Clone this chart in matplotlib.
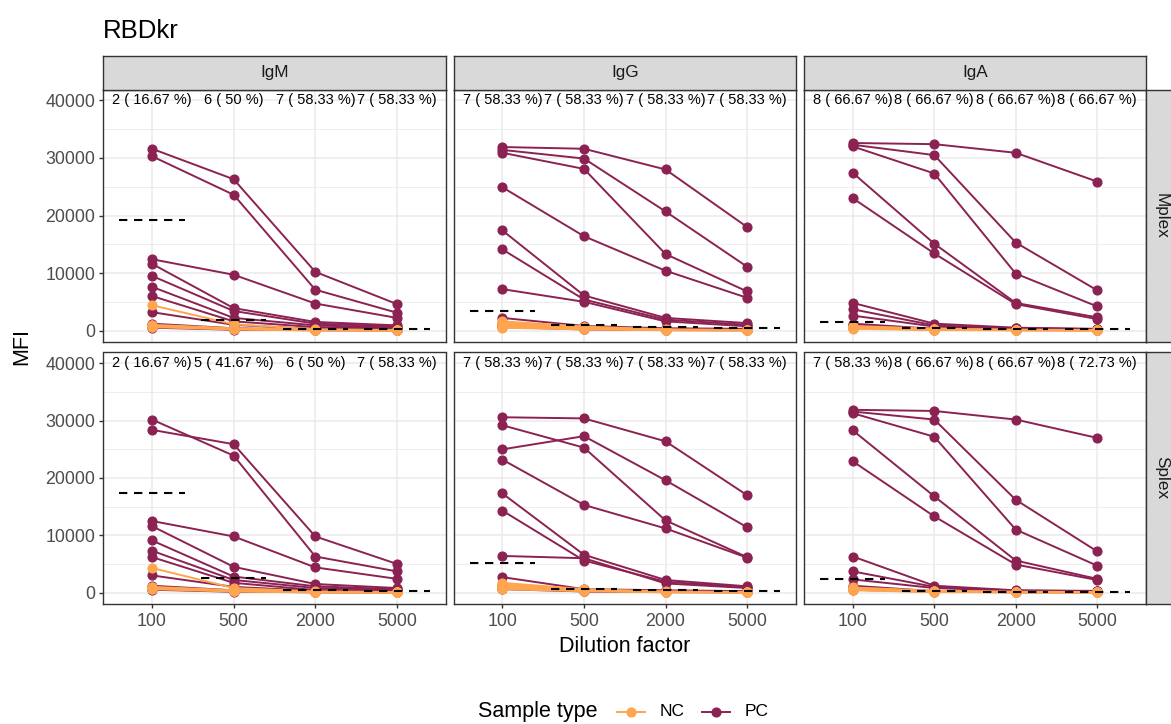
import numpy as np
import matplotlib.pyplot as plt
from matplotlib.lines import Line2D

plt.rcParams['font.family'] = ['Liberation Sans', 'DejaVu Sans']

dilutions = ["100", "500", "2000", "5000"]
isotypes = ["IgM", "IgG", "IgA"]
platforms = ["Mplex", "Splex"]

# PC samples (MFI at 100, 500, 2000, 5000)
pc_igm_mplex = [[31600, 26300, 10200, 4600], [30300, 23600, 7100, 3100],
                [12400, 9700, 4700, 2200], [11600, 3900, 1500, 900],
                [9500, 3400, 1200, 700], [7600, 2200, 900, 500],
                [6000, 1600, 600, 350], [3200, 1000, 250, 150],
                [1200, 400, 150, 100], [900, 300, 100, 80],
                [700, 200, 80, 60], [500, 150, 60, 50]]
pc_igg_mplex = [[31900, 31600, 28000, 18000], [31400, 29900, 20700, 11100],
                [30900, 28100, 13300, 6800], [24900, 16400, 10400, 5700],
                [17400, 6100, 2200, 1300], [14100, 5400, 1900, 1000],
                [7200, 5000, 1600, 750], [2200, 800, 400, 300],
                [1300, 500, 200, 150], [1000, 400, 150, 100],
                [800, 300, 100, 80], [600, 200, 80, 60]]
pc_iga_mplex = [[32600, 32400, 30900, 25900], [32300, 30500, 15300, 7000],
                [32000, 27300, 9900, 4200], [27400, 15100, 4800, 2300],
                [23000, 13400, 4600, 2000], [4800, 1200, 500, 300],
                [3700, 900, 400, 250], [2600, 700, 350, 230],
                [1200, 300, 200, 150], [900, 250, 150, 100],
                [700, 200, 100, 80], [500, 150, 80, 60]]
pc_igm_splex = [[30200, 23900, 6300, 3700], [28400, 25900, 9800, 5000],
                [12500, 9800, 4400, 2400], [11600, 4500, 1500, 800],
                [9100, 2800, 1100, 600], [7300, 2200, 800, 500],
                [6200, 1700, 450, 400], [3000, 1000, 300, 200],
                [1200, 400, 150, 100], [900, 300, 100, 80],
                [700, 200, 80, 60], [500, 150, 60, 50]]
pc_igg_splex = [[30600, 30400, 26400, 17000], [29200, 25300, 12600, 6200],
                [25000, 27300, 19600, 11400], [23200, 15300, 11200, 6100],
                [17300, 6600, 2200, 1100], [14300, 5600, 1900, 900],
                [6400, 6000, 1600, 800], [2700, 600, 400, 250],
                [1300, 400, 200, 150], [1000, 300, 150, 100],
                [800, 250, 100, 80], [600, 200, 80, 60]]
pc_iga_splex = [[31900, 31700, 30200, 27000], [31600, 30200, 16200, 7200],
                [31300, 27200, 11000, 4700], [28300, 16800, 5600, 2400],
                [22900, 13300, 4900, 2200], [6300, 1200, 400, 300],
                [3700, 1000, 350, 250], [2300, 800, 300, 200],
                [1200, 250, 130, np.nan], [900, 220, 100, 100],
                [700, 200, 80, 80], [500, 150, 60, 60]]

# NC samples
nc_igm_mplex = [[4400, 1100, 200, 100], [1000, 400, 100, 50], [900, 300, 100, 50],
                [800, 300, 80, 40], [700, 250, 60, 40], [600, 200, 50, 30]]
nc_igg_mplex = [[1600, 700, 200, 100], [1300, 600, 150, 100], [1100, 500, 120, 80],
                [900, 400, 100, 60], [700, 300, 80, 50], [500, 200, 60, 40]]
nc_iga_mplex = [[800, 300, 150, 100], [700, 250, 120, 80], [600, 200, 100, 60],
                [500, 180, 80, 50], [400, 150, 60, 40], [300, 100, 50, 30]]
nc_igm_splex = [[4300, 800, 200, 100], [1000, 400, 100, 50], [900, 350, 100, 50],
                [800, 300, 80, 40], [700, 250, 60, 40], [600, 200, 50, 30]]
nc_igg_splex = [[1700, 600, 200, 100], [1400, 500, 150, 80], [1200, 450, 120, 70],
                [1000, 400, 100, 60], [800, 300, 80, 50], [600, 250, 60, 40]]
nc_iga_splex = [[900, 300, 150, 100], [800, 250, 120, 80], [700, 200, 100, 60],
                [600, 180, 80, 50], [500, 150, 60, 40], [400, 100, 50, 30]]

# cutoffs per dilution
cut_igm_mplex = [19200, 1900, 300, 200]
cut_igg_mplex = [3400, 900, 580, 400]
cut_iga_mplex = [1450, 450, 300, 200]
cut_igm_splex = [17400, 2500, 520, 350]
cut_igg_splex = [5100, 700, 520, 300]
cut_iga_splex = [2400, 300, 150, 120]

lab_igm_mplex = ["2 ( 16.67 %)", "6 ( 50 %)", "7 ( 58.33 %)", "7 ( 58.33 %)"]
lab_igg_mplex = ["7 ( 58.33 %)"] * 4
lab_iga_mplex = ["8 ( 66.67 %)"] * 4
lab_igm_splex = ["2 ( 16.67 %)", "5 ( 41.67 %)", "6 ( 50 %)", "7 ( 58.33 %)"]
lab_igg_splex = ["7 ( 58.33 %)"] * 4
lab_iga_splex = ["7 ( 58.33 %)", "8 ( 66.67 %)", "8 ( 66.67 %)", "8 ( 72.73 %)"]

pc_data = {("Mplex", "IgM"): pc_igm_mplex, ("Mplex", "IgG"): pc_igg_mplex, ("Mplex", "IgA"): pc_iga_mplex,
           ("Splex", "IgM"): pc_igm_splex, ("Splex", "IgG"): pc_igg_splex, ("Splex", "IgA"): pc_iga_splex}
nc_data = {("Mplex", "IgM"): nc_igm_mplex, ("Mplex", "IgG"): nc_igg_mplex, ("Mplex", "IgA"): nc_iga_mplex,
           ("Splex", "IgM"): nc_igm_splex, ("Splex", "IgG"): nc_igg_splex, ("Splex", "IgA"): nc_iga_splex}
cut_data = {("Mplex", "IgM"): cut_igm_mplex, ("Mplex", "IgG"): cut_igg_mplex, ("Mplex", "IgA"): cut_iga_mplex,
            ("Splex", "IgM"): cut_igm_splex, ("Splex", "IgG"): cut_igg_splex, ("Splex", "IgA"): cut_iga_splex}
lab_data = {("Mplex", "IgM"): lab_igm_mplex, ("Mplex", "IgG"): lab_igg_mplex, ("Mplex", "IgA"): lab_iga_mplex,
            ("Splex", "IgM"): lab_igm_splex, ("Splex", "IgG"): lab_igg_splex, ("Splex", "IgA"): lab_iga_splex}

PC_COL = "#8B2252"
NC_COL = "#FFA54F"
W, H = 1171, 724


def box(x0, y0, x1, y1):
    return [x0 / W, 1 - y1 / H, (x1 - x0) / W, (y1 - y0) / H]


cols = [(103, 446), (453.5, 796), (804, 1146)]
rows = [(89.5, 341.5), (352.5, 603.5)]

fig = plt.figure(figsize=(W / 100, H / 100), dpi=100)
xpos = np.arange(len(dilutions))

for r, plat in enumerate(platforms):
    for c, iso in enumerate(isotypes):
        key = (plat, iso)
        ax = fig.add_axes(box(cols[c][0], rows[r][0], cols[c][1], rows[r][1]))
        for s in pc_data[key]:
            ax.plot(xpos, s, color=PC_COL, lw=1.4, marker='o', ms=6.3, zorder=3)
        for s in nc_data[key]:
            ax.plot(xpos, s, color=NC_COL, lw=1.4, marker='o', ms=6.3, zorder=4)
        for i, cv in enumerate(cut_data[key]):
            ax.plot([i - 0.4, i + 0.4], [cv, cv], color='black', lw=1.5,
                    dashes=(4, 3.2), dash_capstyle='butt', zorder=5)
        for i, lab in enumerate(lab_data[key]):
            ax.text(i, 40000, lab, ha='center', va='center', fontsize=10.5,
                    color='black', zorder=6)
        ax.set_xlim(-0.6, 3.6)
        ax.set_ylim(-1900, 41900)
        ax.set_xticks(xpos)
        ax.set_yticks(np.arange(0, 40001, 10000))
        ax.set_yticks(np.arange(5000, 40000, 10000), minor=True)
        ax.grid(which='major', color='#EBEBEB', lw=1.1)
        ax.grid(which='minor', axis='y', color='#EBEBEB', lw=0.6)
        ax.set_axisbelow(True)
        for sp in ax.spines.values():
            sp.set_color('#333333')
            sp.set_linewidth(1.0)
        ax.tick_params(which='minor', length=0)
        ax.tick_params(which='major', color='#333333', labelcolor='#4D4D4D',
                       labelsize=12.8, length=3, width=1.0)
        ax.tick_params(axis='x', pad=3.5)
        ax.tick_params(axis='y', pad=2.5)
        if r == 1:
            ax.set_xticklabels(dilutions)
        else:
            ax.set_xticklabels([])
            ax.tick_params(axis='x', length=0)
        if c == 0:
            ax.set_yticklabels([str(v) for v in range(0, 40001, 10000)])
        else:
            ax.set_yticklabels([])
            ax.tick_params(axis='y', length=0)

# column strips
for c, iso in enumerate(isotypes):
    sa = fig.add_axes(box(cols[c][0], 56, cols[c][1], 89.5))
    sa.set_facecolor('#D9D9D9')
    sa.set_xticks([])
    sa.set_yticks([])
    for sp in sa.spines.values():
        sp.set_color('#333333')
        sp.set_linewidth(1.0)
    sa.text(0.5, 0.5, iso, ha='center', va='center', fontsize=12.3,
            color='#1A1A1A', transform=sa.transAxes)

# row strips (cut by the right edge as in the original)
for r, plat in enumerate(platforms):
    sa = fig.add_axes(box(1146, rows[r][0], 1179.5, rows[r][1]))
    sa.set_facecolor('#D9D9D9')
    sa.set_xticks([])
    sa.set_yticks([])
    for sp in sa.spines.values():
        sp.set_color('#333333')
        sp.set_linewidth(1.0)
    fig.text(1161.5 / W, 1 - (rows[r][0] + rows[r][1]) / 2 / H, plat,
             ha='center', va='center', fontsize=12.3, color='#1A1A1A', rotation=-90)

fig.text(103 / W, 1 - 38 / H, "RBDkr", ha='left', va='baseline', fontsize=18.5)
fig.text(22 / W, 1 - 346.5 / H, "MFI", ha='center', va='center', rotation=90, fontsize=15.5)
fig.text(624.5 / W, 1 - 646 / H, "Dilution factor", ha='center', va='center', fontsize=15.5)

# legend
ly = 1 - 711.5 / H
fig.text(478 / W, ly, "Sample type", ha='left', va='center', fontsize=15.5)
for col, x0, x1, lab in [(NC_COL, 617, 645, "NC"), (PC_COL, 702, 730, "PC")]:
    fig.add_artist(Line2D([x0 / W, x1 / W], [ly, ly], transform=fig.transFigure,
                          color=col, lw=1.4))
    fig.add_artist(Line2D([(x0 + x1) / 2 / W], [ly], transform=fig.transFigure,
                          color=col, marker='o', ms=6.3, lw=0))
    fig.text((x1 + 15) / W, ly, lab, ha='left', va='center', fontsize=12.5)

fig.savefig("out.png", dpi=100)
